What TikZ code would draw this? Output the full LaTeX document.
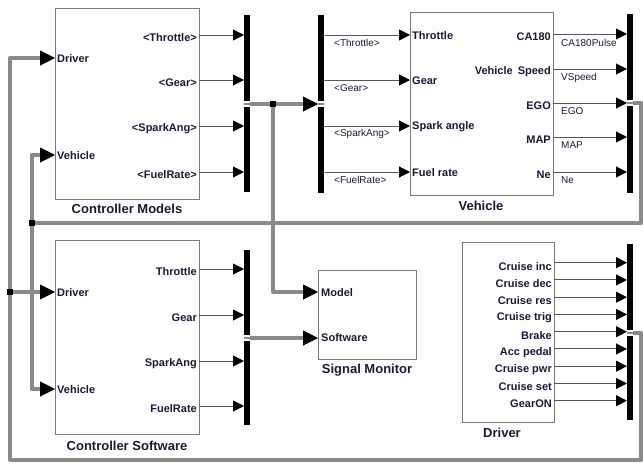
\documentclass[tikz,border=0pt]{standalone}
\usepackage{fontspec}
\setmainfont{Liberation Sans}
\usetikzlibrary{arrows.meta}
\definecolor{busgray}{HTML}{8A8A8A}
\definecolor{linegray}{HTML}{555555}
\definecolor{boxgray}{HTML}{7A7A7A}
\definecolor{txt}{HTML}{1A1A36}
\begin{document}
\begin{tikzpicture}[x=1pt,y=-1pt,
  blk/.style={draw=boxgray, line width=1pt, fill=white, inner sep=0pt, anchor=north west},
  barnode/.style={fill=black, inner sep=0pt, minimum width=6pt, anchor=north west},
  sig/.style={draw=linegray, line width=1pt, -{Triangle[length=11pt,width=11pt,color=black]}},
  bus/.style={draw=busgray, line width=4.5pt, line join=round},
  busarr/.style={bus, shorten >=12pt},
  bustip/.style={draw=black, line width=1pt, -{Triangle[length=15pt,width=15pt,color=black]}},
  plab/.style={font=\bfseries\fontsize{11}{12}\selectfont, text=txt, inner sep=1pt},
  slab/.style={font=\fontsize{10}{11}\selectfont, text=txt, inner sep=0pt, anchor=west},
  ttl/.style={font=\bfseries\fontsize{13}{15}\selectfont, text=txt, inner sep=0pt},
  jct/.style={fill=black, inner sep=0pt, minimum size=6pt},
  exitmark/.style={fill=white, inner sep=0pt, minimum width=6pt, minimum height=6pt}
]
\useasboundingbox (0,0) rectangle (643,466);

% ---------- blocks ----------
\node[blk, minimum width=144pt, minimum height=191pt] (cm) at (55,8) {};
\node[blk, minimum width=143pt, minimum height=183pt] (veh) at (410,12) {};
\node[blk, minimum width=144pt, minimum height=194pt] (cs) at (55,240) {};
\node[blk, minimum width=98pt, minimum height=89pt] (sm) at (318,270) {};
\node[blk, minimum width=92pt, minimum height=180pt] (drv) at (462,242) {};

% ---------- bars ----------
\node[barnode, minimum height=177pt] (cmbar) at (244,15) {};
\node[barnode, minimum height=178pt] (vinbar) at (318,15) {};
\node[barnode, minimum height=179pt] (voutbar) at (627,14) {};
\node[barnode, minimum height=175pt] (csbar) at (244,250) {};
\node[barnode, minimum height=176pt] (dbar) at (627,244) {};

% ---------- titles ----------
\node[ttl] (tcm) at (127,209) {Controller Models};
\node[ttl] (tveh) at (481,206) {Vehicle};
\node[ttl] (tcs) at (127,446) {Controller Software};
\node[ttl] (tsm) at (367,370) {Signal Monitor};
\node[ttl] (tdrv) at (502,433) {Driver};

% ---------- port coordinates ----------
\coordinate (cmD) at (55,58);
\coordinate (cmV) at (55,155);
\coordinate (csD) at (55,292);
\coordinate (csV) at (55,389);
\coordinate (smM) at (318,292);
\coordinate (smS) at (318,338);
\coordinate (cmout) at (250,104);
\coordinate (vin) at (318,104);
\coordinate (vout) at (633,103);
\coordinate (csout) at (250,338);
\coordinate (dout) at (633,333);
\coordinate (j1) at (273,104);
\coordinate (j2) at (32,223);
\coordinate (j3) at (10,292);
\coordinate (c1) at (641,103);
\coordinate (c2) at (641,223);
\coordinate (c3) at (641,333);
\coordinate (c4) at (641,460);
\coordinate (c5) at (10,460);

% ---------- buses ----------
\draw[busarr] (cmout) -- (vin);
\draw[busarr] (j1) |- (smM);
\draw[busarr] (csout) -- (smS);
\draw[bus] (vout) -- (c1) -- (c2) -- (j2);
\draw[busarr] (j2) |- (cmV);
\draw[busarr] (j2) |- (csV);
\draw[busarr] (dout) -- (c3) -- (c4) -- (c5) |- (cmD);
\draw[busarr] (j3) -- (csD);
\foreach \p in {vin,smM,smS,cmV,csV,cmD,csD}{
  \draw[bustip] ([xshift=-14pt]\p) -- (\p);
}

% bus exit marks on bars
\node[exitmark] (mk0) at ([xshift=-3pt]cmout) {};
\node[exitmark] (mk1) at ([xshift=3pt]vin) {};
\node[exitmark] (mk2) at ([xshift=-3pt]vout) {};
\node[exitmark] (mk3) at ([xshift=-3pt]dout) {};
\node[exitmark] (mk4) at ([xshift=-3pt]csout) {};
\draw[busgray, line width=2pt] ([xshift=-6pt]cmout) -- (cmout);
\draw[busgray, line width=2pt] (vin) -- ([xshift=6pt]vin);
\draw[busgray, line width=2pt] ([xshift=-6pt]csout) -- (csout);
\draw[busgray, line width=2pt] ([xshift=-6pt]vout) -- (vout);
\draw[busgray, line width=2pt] ([xshift=-6pt]dout) -- (dout);

% junctions
\node[jct] (jn1) at (j1) {};
\node[jct] (jn2) at (j2) {};
\node[jct] (jn3) at (j3) {};

% ---------- Controller Models ----------
\node[plab, anchor=west] (cmDl) at (56,59) {Driver};
\node[plab, anchor=west] (cmVl) at (56,156) {Vehicle};
\foreach \y/\t/\n in {35/{<Throttle>}/a,80/{<Gear>}/b,126/{<SparkAng>}/c,172/{<FuelRate>}/d}{
  \coordinate (cmo\n) at (199,\y);
  \node[plab, anchor=east] (cmol\n) at (198,\y+3) {\t};
  \draw[sig] (cmo\n) -- (cmo\n -| cmbar.west);
}

% ---------- Vehicle ----------
\foreach \y/\t/\s/\n in {35/Throttle/{<Throttle>}/a,80/Gear/{<Gear>}/b,126/{Spark angle}/{<SparkAng>}/c,172/{Fuel rate}/{<FuelRate>}/d}{
  \coordinate (vi\n) at (410,\y);
  \node[plab, anchor=west] (vil\n) at (411,\y+1) {\t};
  \node[slab] (vis\n) at (334,\y+8) {\s};
  \draw[sig] (vi\n -| vinbar.east) -- (vi\n);
}
\foreach \y/\t/\s/\n in {34/CA180/CA180Pulse/a,69/{Vehicle\hspace{2pt} Speed}/VSpeed/b,103/EGO/EGO/c,137/MAP/MAP/d,172/Ne/Ne/e}{
  \coordinate (vo\n) at (553,\y);
  \node[plab, anchor=east] (vol\n) at (552,\y+3) {\t};
  \node[slab] (vos\n) at (561,\y+8.5) {\s};
  \draw[sig] (vo\n) -- (vo\n -| voutbar.west);
}

% ---------- Controller Software ----------
\node[plab, anchor=west] (csDl) at (56,293) {Driver};
\node[plab, anchor=west] (csVl) at (56,390) {Vehicle};
\foreach \y/\t/\n in {269/Throttle/a,315/Gear/b,361/SparkAng/c,406/FuelRate/d}{
  \coordinate (cso\n) at (199,\y);
  \node[plab, anchor=east] (csol\n) at (198,\y+3) {\t};
  \draw[sig] (cso\n) -- (cso\n -| csbar.west);
}

% ---------- Signal Monitor ----------
\node[plab, anchor=west] (smMl) at (320,293) {Model};
\node[plab, anchor=west] (smSl) at (320,338) {Software};

% ---------- Driver ----------
\foreach \i/\t in {0/Cruise inc,1/Cruise dec,2/Cruise res,3/Cruise trig,4/Brake,5/Acc pedal,6/Cruise pwr,7/Cruise set,8/GearON}{
  \coordinate (do\i) at (554,262.7+17.25*\i);
  \node[plab, anchor=east] (dol\i) at (553,266.2+17.25*\i) {\t};
  \draw[sig] (do\i) -- (do\i -| dbar.west);
}
\end{tikzpicture}
\end{document}
